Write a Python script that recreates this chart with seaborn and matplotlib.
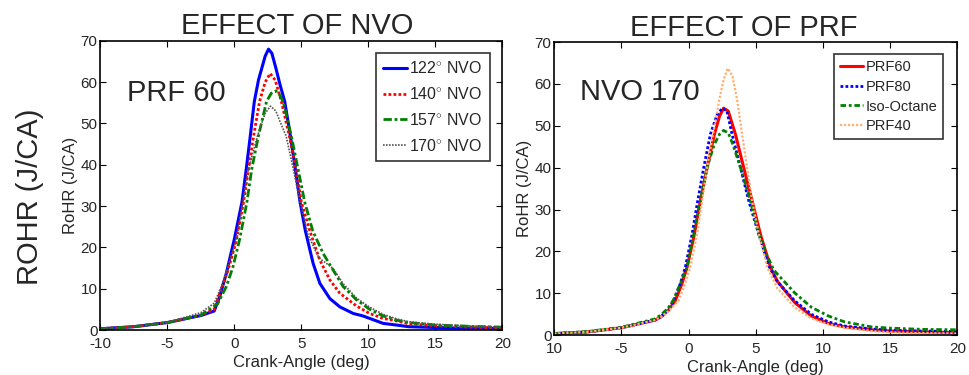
import numpy as np
import pandas as pd
import matplotlib
matplotlib.use("Agg")
import matplotlib.pyplot as plt
import seaborn as sns

sns.set_style("ticks")
plt.rcParams['font.family'] = ['Liberation Sans', 'DejaVu Sans']
plt.rcParams['mathtext.fontset'] = 'custom'
plt.rcParams['mathtext.rm'] = 'Liberation Sans'

# ---------------- data ----------------
# EFFECT OF NVO (PRF 60)
nvo_labels = ["122$^{\\circ}$ NVO", "140$^{\\circ}$ NVO", "157$^{\\circ}$ NVO", "170$^{\\circ}$ NVO"]

x122 = [-10, -7.5, -5, -2.5, -1.5, -1.09, -0.6, 0.0, 0.57, 0.89, 1.19, 1.49, 1.8, 2.05, 2.3,
        2.55, 2.8, 3.1, 3.4, 3.76, 4.18, 4.55, 4.9, 5.3, 5.88, 6.38, 7.13, 7.87, 8.87, 9.6,
        10.1, 11.1, 12.1, 13, 15, 17.5, 20]
y122 = [0.3, 0.8, 1.8, 3.5, 4.6, 8.1, 13.7, 22, 31, 39, 47, 55.3, 60.5, 63.4, 66.3,
        68, 67, 63.4, 59.5, 55.3, 47, 39, 31, 24, 16.1, 11.3, 7.6, 5.6, 4.0, 3.4,
        2.8, 1.6, 1.2, 0.8, 0.6, 0.4, 0.4]

x140 = [-10, -7.5, -5, -2.5, -1.5, -1.09, -0.47, 0.1, 0.69, 1.06, 1.44, 1.88, 2.3, 2.67,
        3.05, 3.51, 4.1, 4.6, 5.0, 5.63, 6.38, 7.13, 7.87, 9.12, 10.1, 11.1, 12.1, 13, 15,
        17.5, 20]
y140 = [0.3, 0.8, 1.8, 3.6, 5.0, 8.8, 14.5, 21, 31, 39, 47, 55.3, 60, 62.1,
        60.5, 55.3, 47, 39, 31, 24, 16.9, 12.1, 8.9, 5.8, 4.0, 2.8, 2.2, 1.5, 1.0,
        0.7, 0.5]

x157 = [-10, -7.5, -5, -2.5, -1.25, -0.6, -0.1, 0.4, 0.94, 1.3, 1.8, 2.4, 2.75, 3.1, 3.4,
        3.64, 4.25, 4.75, 5.25, 5.85, 6.63, 7.37, 8.12, 9.12, 10.1, 11.1, 12.1, 13, 15,
        17.5, 20]
y157 = [0.3, 0.8, 1.8, 3.6, 6.3, 10.5, 15.3, 22, 31, 39, 47, 55.3, 57.3, 57.9, 56.8,
        55.3, 47, 39, 31, 24, 18.5, 14.5, 10.5, 7.3, 5.0, 3.4, 2.4, 1.8, 1.2,
        0.9, 0.7]

x170 = [-10, -7.5, -5, -2.5, -1.5, -0.97, -0.5, 0.25, 0.64, 1.06, 1.73, 2.3, 2.7, 3.1,
        3.4, 3.86, 4.4, 4.9, 5.5, 6.3, 7.37, 8.12, 9.12, 10.1, 11.1, 12.1, 13, 15, 17.5, 20]
y170 = [0.3, 0.8, 1.8, 4.2, 6.5, 10.5, 15, 23, 31, 39, 47, 52.5, 54.2, 53,
        50.5, 47, 39, 31, 23, 17.5, 14.9, 11.2, 7.7, 5.5, 3.8, 2.7, 2.0, 1.4, 1.0, 0.7]

# EFFECT OF PRF (NVO 170)
prf_labels = ["PRF60", "PRF80", "Iso-Octane", "PRF40"]

xprf60 = [-10, -7.5, -5, -2.5, -2, -1.5, -1.0, -0.5, -0.12, 0.42, 0.87, 1.37, 1.92, 2.3, 2.6,
          2.95, 3.48, 4.1, 4.73, 5.35, 6.1, 6.6, 7.9, 9.13, 10.4, 11.6, 13.6, 15, 17.5, 20]
yprf60 = [0.4, 0.8, 1.8, 3.6, 4.5, 6.0, 8.2, 12.3, 16.2, 24, 32, 40, 48, 52.3, 54.2,
          53.5, 48, 40, 32, 24, 16.2, 12.9, 7.8, 4.6, 2.8, 2.0, 1.3, 1.0, 0.8, 0.6]

xprf80 = [-10, -7.5, -5, -2.5, -2, -1.5, -1.12, -0.6, -0.25, 0.25, 0.67, 1.12, 1.62, 2.1, 2.5,
          2.85, 3.23, 3.86, 4.48, 5.23, 5.97, 6.6, 7.9, 9.13, 10.4, 11.6, 13.6, 15, 17.5, 20]
yprf80 = [0.4, 0.8, 1.8, 3.6, 4.6, 6.3, 8.2, 12.5, 16.2, 24, 32, 40, 48, 52.5, 54.2,
          53.5, 48, 40, 32, 24, 16.5, 12.8, 8.2, 5.0, 3.2, 2.2, 1.5, 1.2, 1.0, 0.9]

xiso = [-10, -7.5, -5, -2.5, -2, -1.5, -1.12, -0.6, -0.12, 0.37, 0.87, 1.37, 1.9, 2.3, 2.6,
        2.95, 3.3, 3.86, 4.6, 5.23, 5.8, 6.35, 7.9, 9.13, 10.4, 11.6, 13.6, 15, 17.5, 20]
yiso = [0.4, 0.9, 1.9, 3.9, 5.0, 6.6, 8.5, 12.5, 16.2, 24, 32, 40, 45.5, 48, 48.9,
        48.3, 45.5, 40, 32, 24, 19.3, 15.5, 10.1, 6.7, 4.6, 3.2, 2.0, 1.7, 1.4, 1.3]

xprf40 = [-10, -7.5, -5, -2.5, -2, -1.5, -0.75, -0.3, 0.12, 0.62, 1.0, 1.37, 1.82, 2.29, 2.6,
          2.91, 3.25, 3.6, 3.98, 4.35, 4.73, 5.23, 5.85, 6.6, 7.9, 9.13, 10.4, 11.6, 13.6,
          15, 17.5, 20]
yprf40 = [0.4, 0.8, 1.8, 3.6, 4.5, 5.8, 8.2, 12, 16.2, 24, 32, 40, 48, 56.4, 61,
          63.7, 62, 56.4, 48, 40, 32, 24, 16.2, 11.2, 6.6, 4.0, 2.6, 1.8, 1.0,
          0.7, 0.5, 0.4]

xticks = [-10, -5, 0, 5, 10, 15, 20]
left_xticklabels = ["-10", "-5", "0", "5", "10", "15", "20"]
right_xticklabels = ["10", "-5", "0", "5", "10", "15", "20"]
yticks = [0, 10, 20, 30, 40, 50, 60, 70]

# ---------------- figure ----------------
fig = plt.figure(figsize=(9.69, 3.75), dpi=100)
ax1 = fig.add_axes([0.1035, 0.12, 0.415, 0.771])
ax2 = fig.add_axes([0.572, 0.106, 0.416, 0.782])

left_series = [(x122, y122), (x140, y140), (x157, y157), (x170, y170)]
left_styles = [dict(color="#0000ff", lw=2.2, ls="-"),
               dict(color="#ff0000", lw=2.0, ls=(0, (1, 0.8))),
               dict(color="#008000", lw=2.0, ls=(0, (3, 1, 1, 1))),
               dict(color="#555555", lw=1.2, ls=(0, (1, 0.8)))]
for (xs, ys), lab, st in zip(left_series, nvo_labels, left_styles):
    df = pd.DataFrame({"x": xs, "y": ys})
    sns.lineplot(data=df, x="x", y="y", ax=ax1, label=lab, **st)

right_series = [(xprf60, yprf60), (xprf80, yprf80), (xiso, yiso), (xprf40, yprf40)]
right_styles = [dict(color="#ff0000", lw=2.2, ls="-"),
                dict(color="#0000ff", lw=2.0, ls=(0, (1, 0.8))),
                dict(color="#008000", lw=2.0, ls=(0, (2, 1, 1, 1))),
                dict(color="#ffb070", lw=1.6, ls=(0, (1, 0.8)))]
for (xs, ys), lab, st in zip(right_series, prf_labels, right_styles):
    df = pd.DataFrame({"x": xs, "y": ys})
    sns.lineplot(data=df, x="x", y="y", ax=ax2, label=lab, **st)

for ax, xl in [(ax1, left_xticklabels), (ax2, right_xticklabels)]:
    ax.set_xlim(-10, 20)
    ax.set_ylim(0, 70)
    ax.set_xticks(xticks)
    ax.set_xticklabels(xl)
    ax.set_yticks(yticks)
    ax.tick_params(direction="in", top=True, right=True, labelsize=11, length=4,
                   width=0.8, color="black")
    ax.tick_params(axis="x", pad=5)
    ax.tick_params(axis="y", pad=2)
    for sp in ax.spines.values():
        sp.set_visible(True)
        sp.set_color("black")
        sp.set_linewidth(1.2)
    ax.set_xlabel("Crank-Angle (deg)", fontsize=12, labelpad=3)
    ax.set_ylabel("RoHR (J/CA)", fontsize=12, labelpad=2)

ax1.set_title("EFFECT OF NVO", fontsize=21, pad=5, x=0.49)
ax2.set_title("EFFECT OF PRF", fontsize=21, pad=4, x=0.47)

ax1.text(-8.0, 57.5, "PRF 60", fontsize=21, va="center", ha="left")
ax2.text(-8.1, 58, "NVO 170", fontsize=21, va="center", ha="left")

fig.text(0.031, 0.475, "ROHR (J/CA)", rotation=90, fontsize=21, va="center", ha="center")

leg1 = ax1.legend(loc="upper right", bbox_to_anchor=(0.968, 0.958), fontsize=11.5,
                  frameon=True, fancybox=False, edgecolor="black", handlelength=1.5,
                  handletextpad=0.15, borderpad=0.45, labelspacing=0.62, borderaxespad=0)
leg1.get_frame().set_linewidth(1.2)
leg2 = ax2.legend(loc="upper right", bbox_to_anchor=(0.965, 0.959), fontsize=10.5,
                  frameon=True, fancybox=False, edgecolor="black", handlelength=1.6,
                  handletextpad=0.15, borderpad=0.4, labelspacing=0.4, borderaxespad=0)
leg2.get_frame().set_linewidth(1.2)

fig.savefig("out.png", dpi=100)
